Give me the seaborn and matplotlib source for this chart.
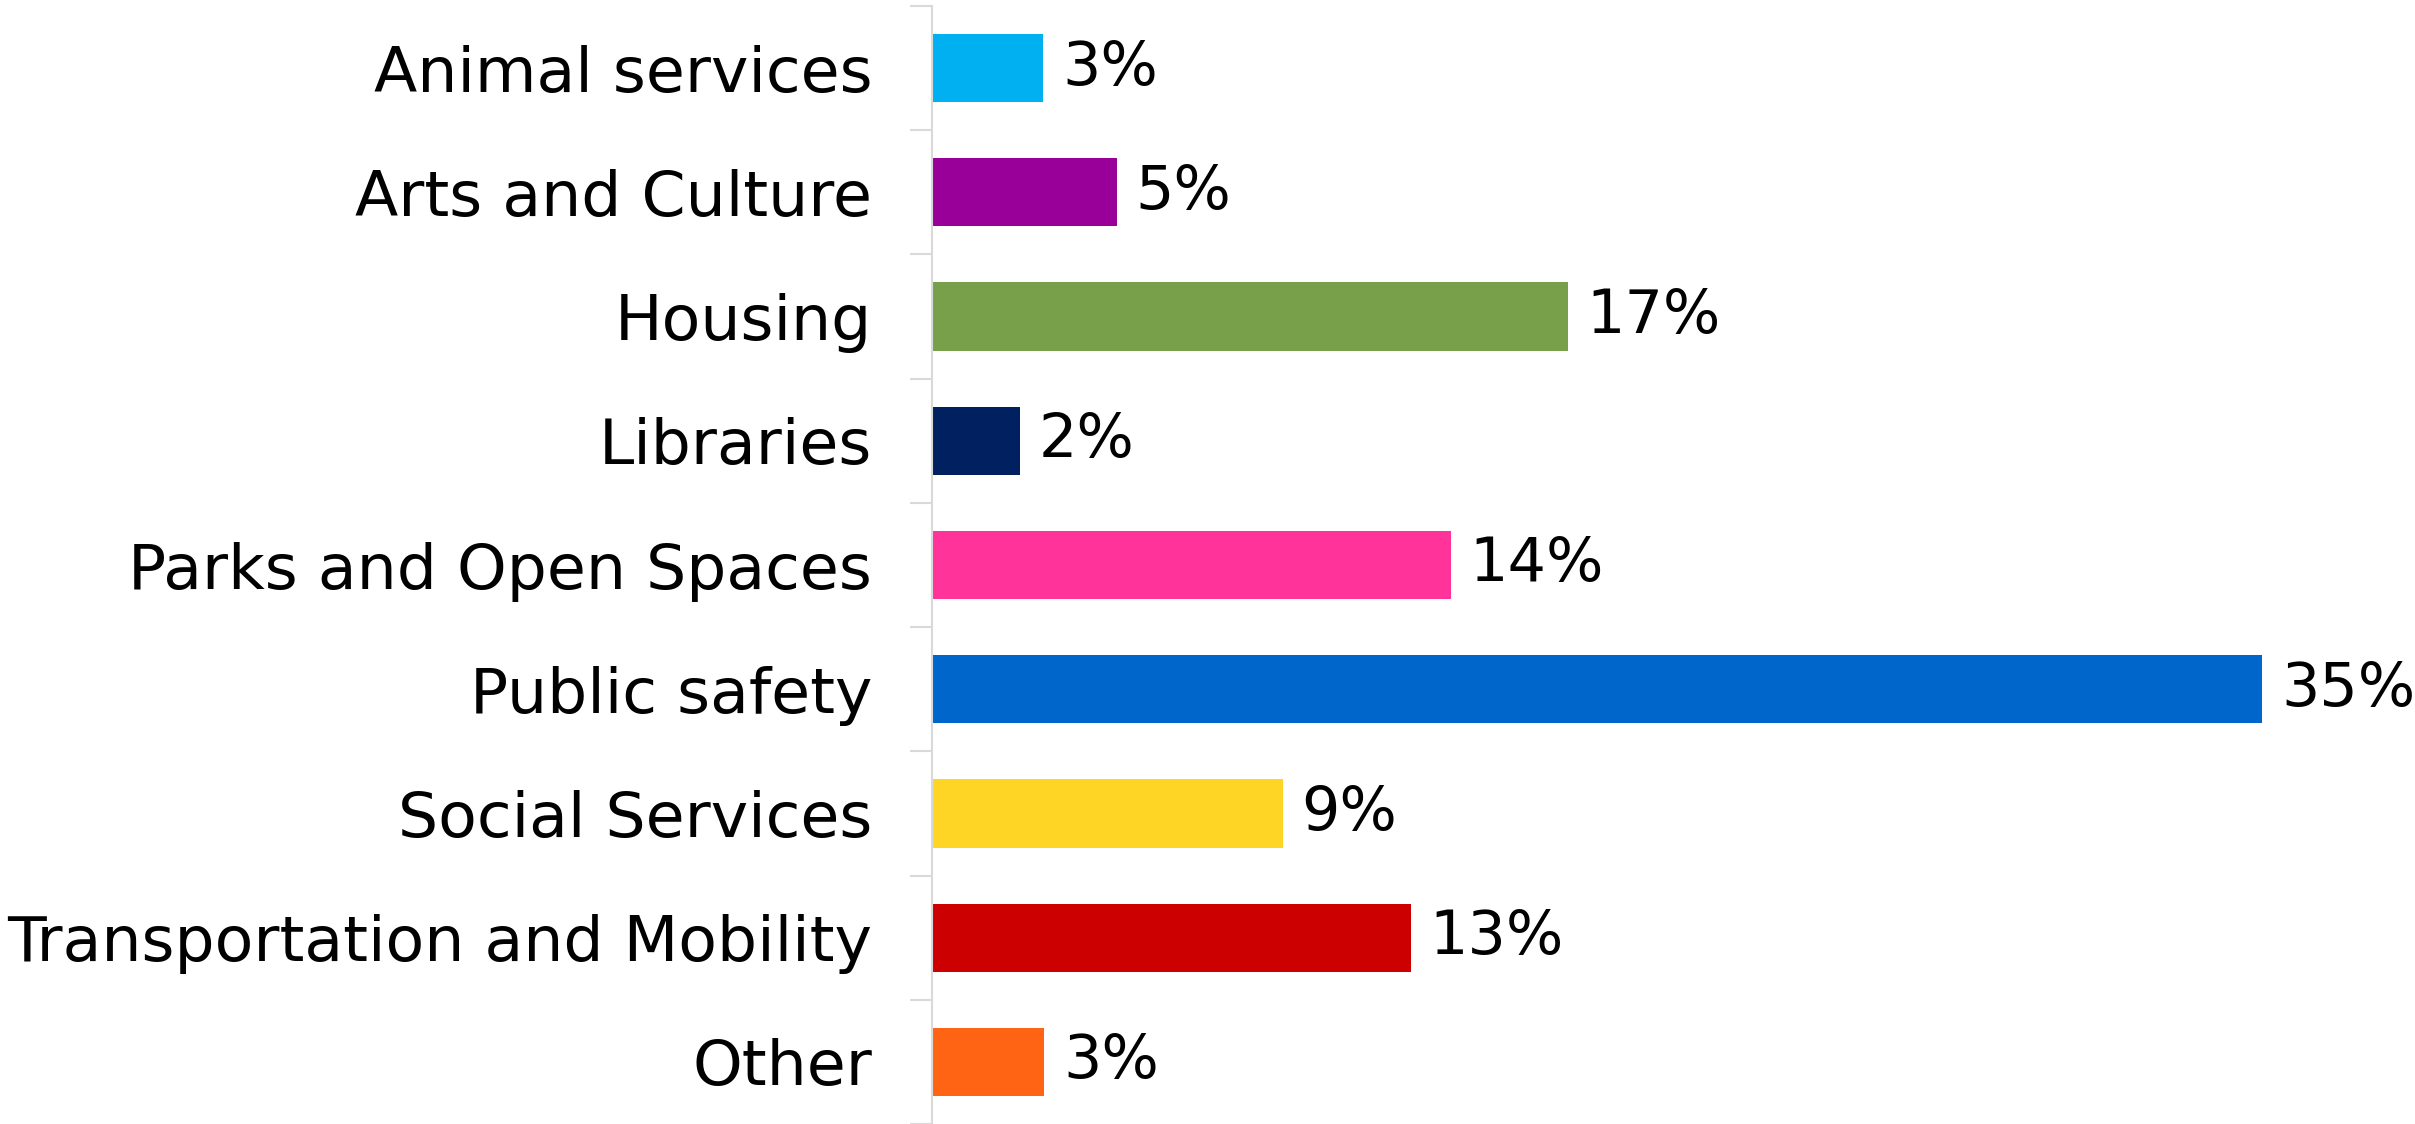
import matplotlib
matplotlib.use('Agg')
import matplotlib.pyplot as plt
import seaborn as sns
import pandas as pd
import numpy as np

categories = ['Animal services', 'Arts and Culture', 'Housing', 'Libraries',
              'Parks and Open Spaces', 'Public safety', 'Social Services',
              'Transportation and Mobility', 'Other']
shares = [2.92, 4.86, 16.73, 2.31, 13.65, 35.0, 9.23, 12.6, 2.96]
labels = ['3%', '5%', '17%', '2%', '14%', '35%', '9%', '13%', '3%']
colors = ['#00B0F0', '#990099', '#78A04A', '#002060', '#FF3399',
          '#0066CC', '#FFD525', '#CC0000', '#FF6314']

df = pd.DataFrame({'category': categories, 'share': shares})

sns.set_theme(style='white')
plt.rcParams['font.family'] = ['DejaVu Sans']

fig = plt.figure(figsize=(24.15, 11.24), dpi=100)
ax = fig.add_axes([932 / 2415, 0.0, 1444 / 2415, 1118 / 1124])

sns.barplot(data=df, x='share', y='category', hue='category', palette=colors,
            legend=False, width=0.55, saturation=1, ax=ax, edgecolor='none')

for i, (v, lab) in enumerate(zip(shares, labels)):
    ax.text(v + 0.5, i, lab, va='center', ha='left', fontsize=43.5, color='black')

ax.set_xlim(0, 38)
ax.set_ylim(8.5, -0.5)
ax.set_xlabel('')
ax.set_ylabel('')
ax.set_xticks([])
for s in ['top', 'right', 'bottom']:
    ax.spines[s].set_visible(False)
ax.spines['left'].set_color('#D9D9D9')
ax.spines['left'].set_linewidth(1.5)

ax.set_yticks(range(len(categories)))
ax.set_yticklabels(categories, fontsize=45.5, color='black')
ax.tick_params(axis='y', which='major', length=0, pad=43)
ax.set_yticks(np.arange(-0.5, len(categories), 1.0), minor=True)
ax.tick_params(axis='y', which='minor', length=16, width=1.5, color='#D9D9D9', left=True)

fig.savefig('out.png', dpi=100)
